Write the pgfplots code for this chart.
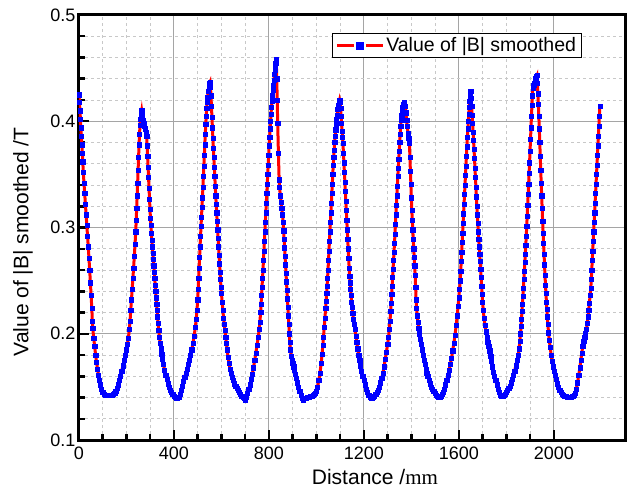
\documentclass[border=0pt]{standalone}
\usepackage{fontspec}
\setmainfont{Liberation Sans}
\newfontfamily\timesfont{Liberation Serif}
\usepackage{pgfplots}
\pgfplotsset{compat=1.18}
\definecolor{majgrid}{RGB}{165,165,165}
\definecolor{mingrid}{RGB}{200,200,200}
\begin{document}
\begin{tikzpicture}
\begin{axis}[
  scale only axis, width=546pt, height=425pt,
  xmin=0, xmax=2300, ymin=0.1, ymax=0.5,
  xtick={0,400,...,2000}, ytick={0.1,0.2,0.3,0.4,0.5},
  minor x tick num=3, minor y tick num=4,
  grid=both,
  major grid style={color=majgrid, line width=1pt},
  minor grid style={color=mingrid, line width=0.8pt, dash pattern=on 3pt off 3pt},
  axis line style={line width=3pt},
  tick pos=left,
  major tick length=10pt, minor tick length=6pt,
  tick style={black, line width=2.5pt},
  tick align=inside,
  ticklabel style={font=\fontsize{18}{21}\selectfont},
  xticklabel style={yshift=-3pt},
  /pgf/number format/assume math mode=true,
  /pgf/number format/1000 sep={},
  yticklabel style={/pgf/number format/fixed, /pgf/number format/precision=1, /pgf/number format/fixed zerofill},
  xlabel={Distance /{\timesfont mm}},
  ylabel={Value of |B| smoothed /T},
  every axis x label/.style={at={(axis description cs:0.542,0)}, anchor=center, yshift=-37pt, font=\fontsize{21}{24}\selectfont},
  every axis y label/.style={at={(axis description cs:-0.1026,0.466)}, rotate=90, anchor=center, font=\fontsize{21}{24}\selectfont},
  legend style={at={(0.463,0.958)}, anchor=north west, draw=black, line width=1pt, font=\fontsize{19.5}{22}\selectfont, inner xsep=3pt, inner ysep=2.5pt, cells={anchor=west}},
  legend image code/.code={
    \draw[red, line width=3pt] (0pt,0pt) -- (17pt,0pt);
    \draw[red, line width=3pt] (29pt,0pt) -- (46pt,0pt);
    \fill[blue] (20.5pt,-2.5pt) rectangle (25.5pt,2.5pt);
  },
]
\addplot[red, line width=3pt, mark=square*, mark size=2.1pt, mark options={solid, fill=blue, draw=blue, line width=0.4pt}] coordinates {
(0,0.425)(2,0.418)(4,0.410)(6,0.402)(8,0.394)(10,0.386)(12,0.378)(14,0.370)(16,0.362)(18,0.352)(21,0.342)(24,0.332)(27,0.322)(30,0.312)(33,0.302)(36,0.292)(39,0.282)(42,0.271)(45,0.260)(48,0.248)(51,0.236)(54,0.224)(56,0.212)(58,0.205)(62,0.196)(66,0.188)(70,0.180)(74,0.173)(78,0.167)(82,0.161)(86,0.156)(90,0.152)(95,0.148)(100,0.145)(105,0.143)(110,0.142)(115,0.142)(120,0.142)(125,0.142)(130,0.142)(135,0.142)(140,0.142)(145,0.143)(150,0.144)
(155,0.146)(160,0.149)(165,0.152)(170,0.156)(175,0.160)(180,0.165)(185,0.170)(190,0.175)(195,0.180)(200,0.185)(204,0.190)(208,0.196)(212,0.204)(215,0.212)(218,0.222)(221,0.232)(224,0.242)(227,0.252)(230,0.262)(233,0.273)(236,0.284)(239,0.296)(241,0.307)(243,0.318)(245,0.330)(247,0.342)(249,0.354)(251,0.366)(253,0.378)(255,0.388)(257,0.396)(259,0.402)(261,0.406)(264,0.410)
(267,0.405)(270,0.401)(273,0.398)(276,0.395)(279,0.393)(282,0.390)(285,0.386)(287,0.377)(289,0.367)(291,0.357)(293,0.347)(295,0.337)(297,0.327)(299,0.317)(301,0.309)(303,0.302)(305,0.295)(307,0.288)(309,0.282)(311,0.276)(313,0.270)(315,0.264)(317,0.258)(319,0.252)(321,0.246)(323,0.240)(325,0.234)(327,0.228)(329,0.222)(331,0.216)(333,0.210)(336,0.203)(339,0.197)(342,0.191)(345,0.186)(348,0.181)(352,0.176)(356,0.171)(360,0.166)(365,0.161)(370,0.157)(375,0.153)(380,0.150)(385,0.147)(390,0.145)(395,0.143)(400,0.141)(405,0.140)(410,0.139)(415,0.139)(420,0.140)
(425,0.143)(430,0.147)(435,0.151)(440,0.155)(445,0.159)(450,0.163)(455,0.167)(460,0.171)(465,0.175)(470,0.180)(475,0.185)(480,0.191)(485,0.198)(490,0.206)(494,0.214)(497,0.222)(500,0.232)(502,0.242)(504,0.252)(506,0.262)(508,0.272)(510,0.282)(512,0.292)(514,0.301)(516,0.310)(518,0.319)(520,0.328)(522,0.338)(524,0.348)(526,0.358)(528,0.368)(530,0.378)(532,0.388)(534,0.397)(536,0.405)(538,0.412)(540,0.418)(542,0.423)(544,0.428)(547,0.433)(550,0.436)(552,0.437)
(554,0.432)(556,0.424)(558,0.414)(560,0.404)(562,0.394)(564,0.384)(566,0.375)(568,0.366)(570,0.357)(572,0.348)(574,0.339)(576,0.330)(578,0.322)(580,0.314)(582,0.306)(584,0.298)(586,0.290)(588,0.282)(590,0.274)(592,0.266)(594,0.258)(596,0.251)(598,0.244)(600,0.238)(603,0.230)(606,0.222)(609,0.215)(612,0.209)(615,0.203)(618,0.197)(621,0.191)(624,0.185)(628,0.178)(632,0.172)(636,0.167)(640,0.163)(645,0.159)(650,0.156)(655,0.153)(660,0.151)(665,0.149)(670,0.147)(675,0.145)(680,0.143)(685,0.141)(690,0.140)(695,0.139)(700,0.138)(705,0.140)
(710,0.144)(715,0.148)(720,0.152)(725,0.157)(730,0.162)(735,0.168)(740,0.175)(745,0.182)(750,0.189)(755,0.197)(759,0.204)(762,0.211)(765,0.220)(767,0.228)(769,0.236)(771,0.244)(773,0.252)(775,0.260)(777,0.269)(779,0.278)(781,0.287)(783,0.296)(785,0.305)(787,0.314)(789,0.323)(791,0.332)(793,0.341)(795,0.350)(797,0.359)(799,0.368)(801,0.377)(803,0.385)(805,0.393)(807,0.400)(809,0.407)(811,0.413)(813,0.419)(815,0.424)(817,0.429)(819,0.434)(821,0.439)(823,0.444)(825,0.448)(827,0.452)(829,0.455)(831,0.458)
(833,0.440)(835,0.420)(837,0.398)(840,0.370)(843,0.345)(845,0.338)(848,0.330)(851,0.324)(854,0.318)(857,0.312)(860,0.305)(862,0.297)(864,0.289)(866,0.281)(868,0.273)(870,0.265)(872,0.257)(874,0.249)(876,0.241)(878,0.233)(880,0.225)(882,0.217)(884,0.209)(886,0.200)(888,0.192)(891,0.185)(894,0.179)(897,0.175)(900,0.172)(904,0.169)(908,0.166)(912,0.162)(916,0.158)(920,0.154)(925,0.150)(930,0.146)(935,0.142)(940,0.139)(945,0.138)(950,0.139)(955,0.139)(960,0.140)(965,0.140)(970,0.140)(975,0.141)(980,0.141)(985,0.142)(990,0.143)(995,0.144)
(1000,0.146)(1005,0.150)(1010,0.156)(1015,0.163)(1020,0.172)(1024,0.181)(1027,0.189)(1030,0.197)(1033,0.206)(1036,0.215)(1039,0.224)(1041,0.231)(1043,0.238)(1045,0.245)(1047,0.252)(1049,0.260)(1051,0.269)(1053,0.278)(1055,0.287)(1057,0.296)(1059,0.305)(1061,0.314)(1063,0.323)(1065,0.332)(1067,0.341)(1069,0.350)(1071,0.359)(1073,0.366)(1075,0.373)(1077,0.380)(1079,0.386)(1081,0.392)(1083,0.397)(1085,0.402)(1087,0.406)(1090,0.411)(1093,0.415)(1096,0.418)(1098,0.420)
(1100,0.418)(1102,0.412)(1104,0.405)(1106,0.398)(1108,0.391)(1110,0.385)(1112,0.379)(1114,0.370)(1116,0.361)(1118,0.352)(1120,0.343)(1122,0.334)(1124,0.325)(1126,0.316)(1128,0.307)(1130,0.298)(1132,0.289)(1134,0.280)(1136,0.271)(1138,0.262)(1140,0.254)(1142,0.248)(1144,0.242)(1146,0.236)(1148,0.230)(1150,0.225)(1153,0.219)(1156,0.214)(1159,0.209)(1162,0.204)(1166,0.198)(1170,0.192)(1174,0.186)(1178,0.180)(1182,0.175)(1186,0.170)(1190,0.165)(1195,0.160)(1200,0.156)(1205,0.152)(1210,0.148)(1215,0.145)(1220,0.142)(1225,0.140)(1230,0.139)(1235,0.139)(1240,0.140)(1245,0.141)(1250,0.143)(1255,0.145)(1260,0.147)
(1265,0.150)(1270,0.154)(1275,0.158)(1280,0.163)(1285,0.169)(1290,0.176)(1295,0.183)(1300,0.190)(1304,0.197)(1307,0.204)(1310,0.212)(1313,0.221)(1315,0.229)(1317,0.237)(1319,0.245)(1321,0.253)(1323,0.261)(1325,0.269)(1327,0.277)(1329,0.285)(1331,0.294)(1333,0.303)(1335,0.312)(1337,0.321)(1339,0.330)(1341,0.339)(1343,0.348)(1345,0.356)(1347,0.364)(1349,0.372)(1351,0.380)(1353,0.388)(1355,0.395)(1357,0.401)(1359,0.406)(1361,0.410)(1363,0.413)(1366,0.416)(1369,0.418)(1371,0.418)
(1374,0.414)(1377,0.408)(1380,0.401)(1383,0.395)(1386,0.389)(1389,0.384)(1392,0.379)(1394,0.366)(1396,0.353)(1398,0.341)(1400,0.328)(1402,0.316)(1404,0.307)(1406,0.298)(1408,0.289)(1410,0.280)(1412,0.272)(1414,0.264)(1416,0.255)(1418,0.244)(1420,0.232)(1422,0.224)(1425,0.217)(1428,0.211)(1431,0.205)(1434,0.200)(1437,0.195)(1441,0.190)(1445,0.185)(1449,0.180)(1453,0.175)(1457,0.171)(1461,0.167)(1465,0.163)(1469,0.160)(1474,0.156)(1479,0.153)(1484,0.150)(1489,0.148)(1494,0.146)(1499,0.144)(1504,0.142)(1509,0.141)(1514,0.140)(1519,0.140)(1524,0.141)(1529,0.143)(1534,0.145)
(1539,0.148)(1544,0.152)(1549,0.156)(1554,0.161)(1559,0.166)(1564,0.171)(1569,0.177)(1574,0.184)(1579,0.191)(1584,0.199)(1589,0.208)(1593,0.217)(1597,0.226)(1600,0.234)(1603,0.242)(1606,0.250)(1608,0.259)(1610,0.268)(1612,0.277)(1614,0.286)(1616,0.295)(1618,0.304)(1620,0.313)(1622,0.322)(1624,0.331)(1626,0.340)(1628,0.349)(1630,0.358)(1632,0.367)(1634,0.376)(1636,0.385)(1638,0.393)(1640,0.400)(1642,0.407)(1644,0.413)(1646,0.419)(1648,0.424)(1650,0.428)
(1652,0.422)(1654,0.414)(1656,0.406)(1658,0.398)(1660,0.390)(1662,0.382)(1664,0.374)(1666,0.365)(1668,0.356)(1670,0.347)(1672,0.338)(1674,0.329)(1676,0.320)(1678,0.312)(1680,0.304)(1682,0.296)(1684,0.289)(1686,0.282)(1688,0.275)(1690,0.268)(1692,0.261)(1694,0.253)(1696,0.245)(1698,0.237)(1700,0.230)(1703,0.222)(1706,0.215)(1710,0.208)(1714,0.202)(1718,0.197)(1722,0.192)(1726,0.188)(1730,0.184)(1734,0.179)(1738,0.174)(1742,0.169)(1746,0.164)(1750,0.160)(1755,0.156)(1760,0.152)(1765,0.148)(1770,0.145)(1775,0.142)(1780,0.141)(1785,0.141)(1790,0.142)(1795,0.143)(1800,0.145)(1805,0.147)(1810,0.149)(1815,0.151)
(1820,0.154)(1825,0.157)(1830,0.161)(1835,0.165)(1840,0.170)(1845,0.175)(1850,0.180)(1854,0.186)(1857,0.193)(1860,0.200)(1862,0.207)(1864,0.214)(1866,0.221)(1868,0.228)(1870,0.235)(1872,0.243)(1874,0.251)(1876,0.259)(1878,0.267)(1880,0.275)(1882,0.283)(1884,0.292)(1886,0.301)(1888,0.311)(1890,0.321)(1892,0.331)(1894,0.341)(1896,0.351)(1898,0.361)(1900,0.372)(1902,0.383)(1904,0.394)(1906,0.405)(1908,0.415)(1910,0.424)(1912,0.431)(1915,0.434)(1918,0.436)(1921,0.438)(1924,0.440)(1927,0.442)(1929,0.443)
(1931,0.436)(1933,0.426)(1935,0.416)(1937,0.405)(1939,0.393)(1941,0.380)(1943,0.367)(1945,0.354)(1947,0.342)(1949,0.330)(1951,0.318)(1953,0.306)(1955,0.295)(1957,0.285)(1959,0.275)(1961,0.265)(1963,0.255)(1965,0.246)(1967,0.238)(1969,0.230)(1971,0.223)(1973,0.216)(1975,0.209)(1978,0.201)(1981,0.194)(1985,0.187)(1989,0.180)(1993,0.174)(1997,0.169)(2001,0.165)(2005,0.161)(2010,0.157)(2015,0.153)(2020,0.150)(2025,0.147)(2030,0.145)(2035,0.143)(2040,0.142)(2045,0.141)(2050,0.141)(2055,0.140)(2060,0.140)(2065,0.140)(2070,0.140)(2075,0.140)(2080,0.141)(2085,0.142)(2090,0.144)
(2095,0.148)(2100,0.154)(2105,0.161)(2110,0.168)(2114,0.175)(2118,0.182)(2122,0.188)(2126,0.193)(2130,0.197)(2134,0.200)(2138,0.204)(2141,0.210)(2144,0.216)(2147,0.222)(2150,0.229)(2153,0.236)(2156,0.243)(2158,0.251)(2160,0.260)(2162,0.269)(2164,0.278)(2166,0.287)(2168,0.296)(2170,0.305)(2172,0.314)(2174,0.323)(2176,0.332)(2178,0.341)(2180,0.350)(2182,0.359)(2184,0.368)(2186,0.377)(2188,0.386)(2190,0.395)(2192,0.405)(2194,0.414)
};
\addlegendentry{Value of |B| smoothed}
\end{axis}
\pgfresetboundingbox
\path ([shift={(-79pt,-50pt)}]current axis.south west) rectangle ([shift={(3pt,15pt)}]current axis.north east);
\end{tikzpicture}
\end{document}
